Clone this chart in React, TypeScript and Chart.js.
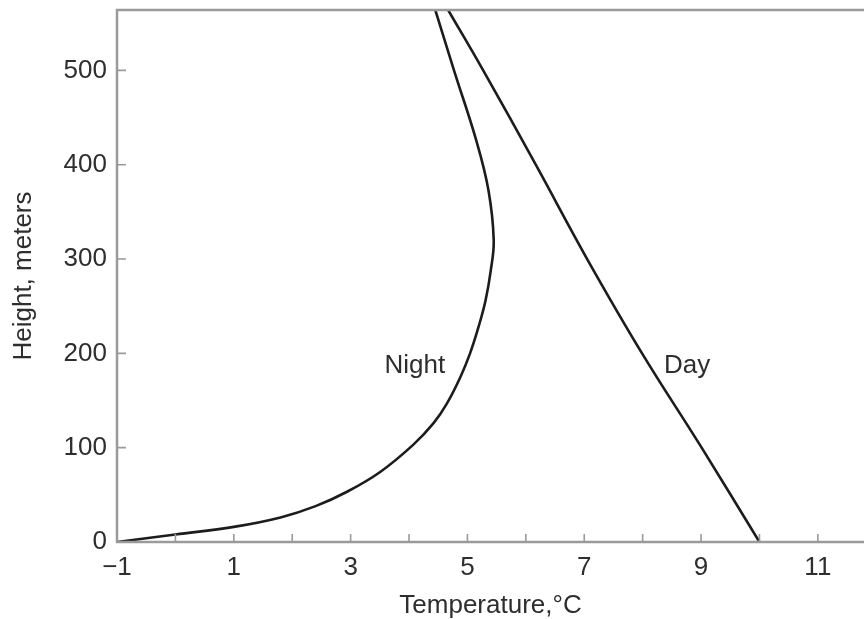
import React, { useEffect, useRef } from 'react';
import { Chart, registerables } from 'chart.js';

Chart.register(...registerables);

// Night-time temperature profile (°C) against height (m)
const nightTemps = [-1, 0, 1, 1.8, 2.4, 2.93, 3.5, 4.07, 4.42, 4.65, 4.88, 5.045, 5.19, 5.31, 5.4, 5.45, 5.36, 5.15, 4.77, 4.45];
const nightHeights = [0, 8, 16, 26, 38, 53, 74, 103, 126, 147, 175, 200, 228, 256, 288, 320, 373, 426, 500, 564];

// Daytime temperature profile (°C) against height (m)
const dayTemps = [10, 9.01, 7.99, 7.05, 6.17, 5.27, 4.67];
const dayHeights = [0, 100, 200, 300, 400, 500, 564];

// In-plot curve names and where they sit (temperature, height)
const curveNames = ['Night', 'Day'];
const curveNameTemps = [4.1, 8.76];
const curveNameHeights = [187, 187];

// Axis ranges
const tempRange = [-1, 11.79];
const heightRange = [0, 564];

const FONT = '"Liberation Sans", Arial, Helvetica, sans-serif';
const TEXT_COLOR = '#2e2e2e';
const AXIS_COLOR = '#9a9a9a';
const CURVE_COLOR = '#1c1c1c';

const toPoints = (xs: number[], ys: number[]) => xs.map((x, i) => ({ x, y: ys[i] }));

// Frame on left, bottom and top, plus inward-pointing tick marks
const framePlugin = {
  id: 'frameTicks',
  afterDatasetsDraw(chart: any) {
    const { ctx, chartArea, scales } = chart;
    const { left, right, top, bottom } = chartArea;
    ctx.save();
    ctx.strokeStyle = AXIS_COLOR;
    ctx.lineWidth = 2.5;
    ctx.beginPath();
    ctx.moveTo(right, top);
    ctx.lineTo(left, top);
    ctx.lineTo(left, bottom);
    ctx.lineTo(right, bottom);
    ctx.stroke();

    ctx.lineWidth = 1.6;
    ctx.beginPath();
    scales.x.ticks.forEach((t: any) => {
      const px = scales.x.getPixelForValue(t.value);
      ctx.moveTo(px, bottom);
      ctx.lineTo(px, bottom - 8);
    });
    scales.y.ticks.forEach((t: any) => {
      const py = scales.y.getPixelForValue(t.value);
      ctx.moveTo(left, py);
      ctx.lineTo(left + 9, py);
    });
    ctx.stroke();
    ctx.restore();
  },
};

// Curve names placed in data coordinates
const namePlugin = {
  id: 'curveNames',
  afterDraw(chart: any) {
    const { ctx, scales } = chart;
    ctx.save();
    ctx.fillStyle = TEXT_COLOR;
    ctx.font = `26px ${FONT}`;
    ctx.textAlign = 'center';
    ctx.textBaseline = 'middle';
    curveNames.forEach((name, i) => {
      ctx.fillText(
        name,
        scales.x.getPixelForValue(curveNameTemps[i]),
        scales.y.getPixelForValue(curveNameHeights[i])
      );
    });
    ctx.restore();
  },
};

export default function App() {
  const canvasRef = useRef<HTMLCanvasElement | null>(null);

  useEffect(() => {
    if (!canvasRef.current) return;
    const chart = new Chart(canvasRef.current, {
      type: 'line',
      data: {
        datasets: [
          {
            label: 'Night',
            data: toPoints(nightTemps, nightHeights),
            borderColor: CURVE_COLOR,
            borderWidth: 2.6,
            pointRadius: 0,
            tension: 0.4,
            fill: false,
          },
          {
            label: 'Day',
            data: toPoints(dayTemps, dayHeights),
            borderColor: CURVE_COLOR,
            borderWidth: 2.6,
            pointRadius: 0,
            tension: 0.4,
            fill: false,
          },
        ],
      },
      options: {
        responsive: false,
        animation: false,
        parsing: false,
        layout: { padding: { top: 10, right: 0, left: 0, bottom: 0 } },
        plugins: {
          legend: { display: false },
          tooltip: { enabled: false },
        },
        scales: {
          x: {
            type: 'linear',
            min: tempRange[0],
            max: tempRange[1],
            grid: { display: false, drawTicks: false },
            border: { display: false },
            ticks: {
              stepSize: 1,
              includeBounds: false,
              autoSkip: false,
              maxRotation: 0,
              padding: 10,
              color: TEXT_COLOR,
              font: { family: FONT, size: 26 },
              callback: (v: any) => {
                const n = Number(v);
                if (Math.abs(n % 2) !== 1) return '';
                return n < 0 ? `\u2212${Math.abs(n)}` : String(n);
              },
            },
            title: {
              display: true,
              text: 'Temperature,°C',
              color: TEXT_COLOR,
              font: { family: FONT, size: 26, lineHeight: 1 },
              padding: { top: 0, bottom: 0 },
            },
            afterFit: (scale: any) => {
              scale.height = 77;
              scale.paddingLeft = 0;
              scale.paddingRight = 0;
            },
          },
          y: {
            type: 'linear',
            min: heightRange[0],
            max: heightRange[1],
            grid: { display: false, drawTicks: false },
            border: { display: false },
            ticks: {
              stepSize: 100,
              includeBounds: false,
              padding: 10,
              color: TEXT_COLOR,
              font: { family: FONT, size: 26 },
            },
            title: {
              display: true,
              text: 'Height, meters',
              color: TEXT_COLOR,
              font: { family: FONT, size: 26, lineHeight: 1 },
              padding: { top: 11, bottom: 0 },
            },
            afterFit: (scale: any) => {
              scale.width = 117;
              scale.paddingTop = 0;
              scale.paddingBottom = 0;
            },
          },
        },
      },
      plugins: [framePlugin, namePlugin],
    });
    return () => chart.destroy();
  }, []);

  return (
    <div style={{ position: 'fixed', left: 0, top: 0, width: 864, height: 619, background: '#ffffff' }}>
      <canvas ref={canvasRef} width={864} height={619} style={{ display: 'block' }} />
    </div>
  );
}
